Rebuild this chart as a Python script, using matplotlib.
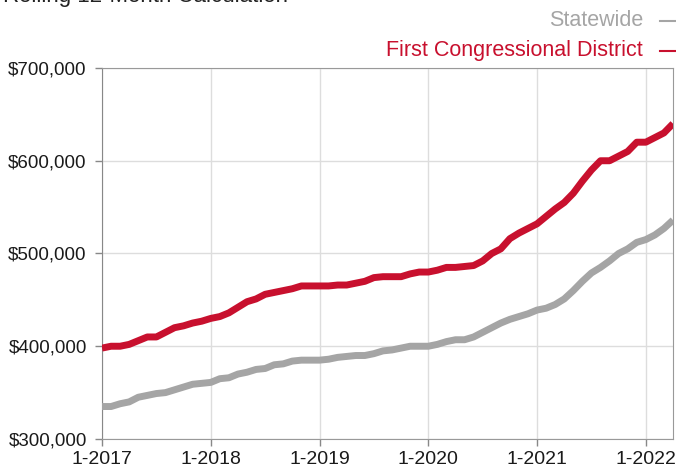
import matplotlib
matplotlib.use("Agg")
import matplotlib.pyplot as plt
from matplotlib.lines import Line2D

plt.rcParams["font.family"] = ["Liberation Sans", "DejaVu Sans"]

# monthly rolling 12-month median price, Jan 2017 .. Apr 2022, in $1000
district = [398, 400, 400, 402, 406, 410, 410, 415, 420, 422, 425, 427,
            430, 432, 436, 442, 448, 451, 456, 458, 460, 462, 465, 465,
            465, 465, 466, 466, 468, 470, 474, 475, 475, 475, 478, 480,
            480, 482, 485, 485, 486, 487, 492, 500, 505, 516, 522, 527,
            532, 540, 548, 555, 565, 578, 590, 600, 600, 605, 610, 620,
            620, 625, 630, 640]
statewide = [335, 335, 338, 340, 345, 347, 349, 350, 353, 356, 359, 360,
             361, 365, 366, 370, 372, 375, 376, 380, 381, 384, 385, 385,
             385, 386, 388, 389, 390, 390, 392, 395, 396, 398, 400, 400,
             400, 402, 405, 407, 407, 410, 415, 420, 425, 429, 432, 435,
             439, 441, 445, 451, 460, 470, 479, 485, 492, 500, 505, 512,
             515, 520, 527, 536]
year_labels = ["1-2017", "1-2018", "1-2019", "1-2020", "1-2021", "1-2022"]
y_ticks = [300, 400, 500, 600, 700]

red = "#C8102E"
gray = "#A5A5A5"

months = list(range(len(district)))

fig = plt.figure(figsize=(6.76, 4.68), dpi=100)
ax = fig.add_axes([0.1509, 0.062, 0.8447, 0.7927])

ax.plot(months, statewide, color=gray, lw=5, solid_capstyle="butt", zorder=3)
ax.plot(months, district, color=red, lw=5, solid_capstyle="butt", zorder=4)

ax.set_xlim(0, len(months) - 1)
ax.set_ylim(300, 700)
ax.set_xticks([12 * i for i in range(len(year_labels))])
ax.set_xticklabels(year_labels)
ax.set_yticks(y_ticks)
ax.set_yticklabels(["${:,}".format(v * 1000) for v in y_ticks])
ax.tick_params(labelsize=14, colors="#888888", labelcolor="#1a1a1a",
               length=5, width=1, direction="out")
ax.tick_params(axis="y", pad=6, labelsize=13.5)
ax.tick_params(axis="x", pad=4)
ax.grid(True, color="#DDDDDD", lw=1)
ax.set_axisbelow(True)
for s in ax.spines.values():
    s.set_color("#999999")
ax.spines["left"].set_color("#888888")

fig.text(0.005, 0.985, "Rolling 12-Month Calculation", fontsize=16, color="#222222",
         ha="left", va="bottom")

# legend: right-aligned labels with a short dash after each
for label, col, yy in [("Statewide", gray, 0.957), ("First Congressional District", red, 0.892)]:
    fig.text(0.951, yy, label, fontsize=15.5, color=col, ha="right", va="center")
    fig.add_artist(Line2D([0.976, 0.998], [yy - 0.0015, yy - 0.0015], color=col, lw=1.5,
                          transform=fig.transFigure))

fig.savefig("out.png", dpi=100)
